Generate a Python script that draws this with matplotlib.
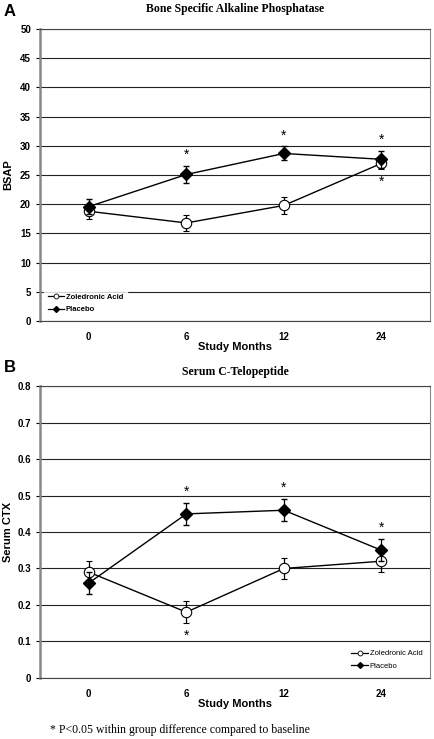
import matplotlib.pyplot as plt
from matplotlib.lines import Line2D
from matplotlib.ticker import FuncFormatter

plt.rcParams['font.family'] = ['Liberation Sans', 'DejaVu Sans']

months = ['0', '6', '12', '24']

# panel A - BSAP
bsap_zol = [18.8, 16.8, 19.8, 27.0]
bsap_zol_err = [1.3, 1.4, 1.4, 1.0]
bsap_pla = [19.6, 25.1, 28.7, 27.7]
bsap_pla_err = [1.3, 1.5, 1.2, 1.5]
bsap_stars_pla = [False, True, True, True]
bsap_stars_zol = [False, False, False, True]

# panel B - serum CTX
ctx_zol = [0.29, 0.18, 0.30, 0.32]
ctx_zol_err = [0.03, 0.03, 0.03, 0.03]
ctx_pla = [0.26, 0.45, 0.46, 0.35]
ctx_pla_err = [0.03, 0.03, 0.03, 0.03]
ctx_stars_pla = [False, True, True, True]
ctx_stars_zol = [False, True, False, False]

fig = plt.figure(figsize=(4.35, 7.39), dpi=100)
axA = fig.add_axes([0.092, 0.5656, 0.897, 0.395])
axB = fig.add_axes([0.092, 0.083, 0.897, 0.394])

x = list(range(len(months)))


def draw_panel(ax, zol, zol_err, pla, pla_err, stars_pla, stars_zol, ymax, step, leg_loc, leg_bold):
    ax.errorbar(x, zol, yerr=zol_err, color='black', lw=1, marker='o', ms=7.5,
                mfc='white', mec='black', mew=0.8, capsize=2.5, elinewidth=0.9,
                zorder=3)
    ax.errorbar(x, pla, yerr=pla_err, color='black', lw=1, marker='D', ms=6,
                mfc='black', mec='black', capsize=2.5, elinewidth=0.9,
                zorder=4)
    for i in x:
        if stars_pla[i]:
            ax.annotate('*', (i, pla[i] + pla_err[i]), xytext=(0, 3),
                        textcoords='offset points', ha='center', va='bottom',
                        fontsize=10)
        if stars_zol[i]:
            ax.annotate('*', (i, zol[i] - zol_err[i]), xytext=(0, -4),
                        textcoords='offset points', ha='center', va='top',
                        fontsize=10)
    ax.set_xlim(-0.5, 3.5)
    ax.set_ylim(0, ymax)
    ticks = [round(k * step, 2) for k in range(int(round(ymax / step)) + 1)]
    ax.set_yticks(ticks)
    ax.yaxis.set_major_formatter(FuncFormatter(lambda v, p: '0' if v == 0 else ('%g' % v)))
    ax.set_xticks(x)
    ax.set_xticklabels(months)
    ax.tick_params(axis='both', labelsize=7, length=3, width=0.8)
    ax.tick_params(axis='x', length=0, pad=8)
    for lab in ax.get_xticklabels() + ax.get_yticklabels():
        lab.set_fontweight('bold')
    ax.grid(axis='y', color='#222222', lw=0.8)
    ax.set_axisbelow(True)
    ax.spines['left'].set_color('#888888')
    ax.spines['left'].set_linewidth(1.8)
    ax.spines['right'].set_color('#888888')
    ax.spines['top'].set_color('#444444')
    ax.spines['bottom'].set_color('#444444')
    ax.set_xlabel('Study Months', fontsize=8, fontweight='bold', labelpad=0)
    handles = [
        Line2D([], [], color='black', lw=0.9, marker='o', ms=3.5, mfc='white', mew=0.6),
        Line2D([], [], color='black', lw=0.9, marker='D', ms=3, mfc='black'),
    ]
    leg = ax.legend(handles, ['Zoledronic Acid', 'Placebo'], loc=leg_loc,
                    frameon=True, fontsize=5.5, handlelength=2.2,
                    borderpad=0.5, labelspacing=0.7, handletextpad=0.2,
                    fancybox=False)
    leg.get_frame().set_facecolor('white')
    leg.get_frame().set_edgecolor('white')
    leg.set_zorder(5)
    if leg_bold:
        for t in leg.get_texts():
            t.set_fontweight('bold')
    ax.yaxis.set_label_coords(-0.068, 0.5)


draw_panel(axA, bsap_zol, bsap_zol_err, bsap_pla, bsap_pla_err,
           bsap_stars_pla, bsap_stars_zol, 50, 5, 'lower left', True)
axA.set_ylabel('BSAP', fontsize=8, fontweight='bold')
axA.set_title('Bone Specific Alkaline Phosphatase', fontsize=8.5, fontweight='bold',
              family='Liberation Serif', pad=12)

draw_panel(axB, ctx_zol, ctx_zol_err, ctx_pla, ctx_pla_err,
           ctx_stars_pla, ctx_stars_zol, 0.8, 0.1, 'lower right', False)
axB.set_ylabel('Serum CTX', fontsize=8, fontweight='bold')
axB.set_title('Serum C-Telopeptide', fontsize=8.5, fontweight='bold',
              family='Liberation Serif', pad=8)

fig.text(0.008, 0.984, 'A', fontsize=12, fontweight='bold', va='center')
fig.text(0.008, 0.503, 'B', fontsize=12, fontweight='bold', va='center')
fig.text(0.115, 0.012, '* P<0.05 within group difference compared to baseline',
         fontsize=8.5, family='Liberation Serif', va='center')

fig.savefig('out.png', dpi=100)
